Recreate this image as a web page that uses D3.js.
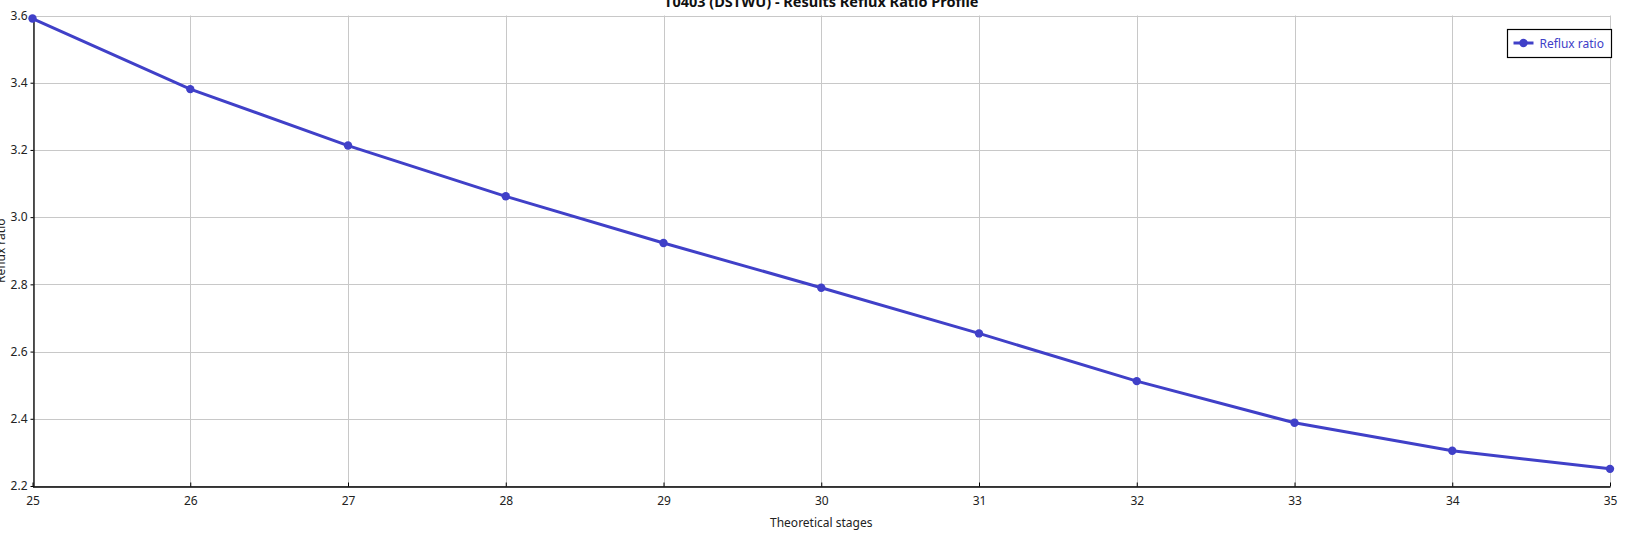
<!DOCTYPE html>
<html>
<head>
<meta charset="utf-8">
<script src="https://cdn.jsdelivr.net/npm/d3@7"></script>
<style>
  body { margin: 0; background: #fff; }
  svg { display: block; font-family: "Noto Sans", "DejaVu Sans", sans-serif; }
</style>
</head>
<body>
<svg id="chart" width="1628" height="537"></svg>
<script>
'use strict';

// data
var stages = [25, 26, 27, 28, 29, 30, 31, 32, 33, 34, 35];
var refluxRatio = [3.591, 3.381, 3.213, 3.062, 2.923, 2.790, 2.654, 2.512, 2.388, 2.305, 2.251];
var yTicks = [2.2, 2.4, 2.6, 2.8, 3.0, 3.2, 3.4, 3.6];

var titleText = "T0403 (DSTWU) - Results Reflux Ratio Profile";
var xLabel = "Theoretical stages";
var yLabel = "Reflux ratio";
var seriesName = "Reflux ratio";

var W = 1628, H = 537;
var margin = { top: 15.5, right: 18, bottom: 51, left: 32.5 };
var lineColor = "#4040c8";

var svg = d3.select("#chart");

var x = d3.scaleLinear().domain([25, 35]).range([margin.left, W - margin.right]);
var y = d3.scaleLinear().domain([2.2, 3.6]).range([H - margin.bottom, margin.top]);

// grid
var grid = svg.append("g").attr("class", "grid");
grid.selectAll("line.v")
    .data(stages)
    .enter().append("line")
        .attr("class", "v")
        .attr("x1", function(d) { return Math.round(x(d)) + 0.5; })
        .attr("x2", function(d) { return Math.round(x(d)) + 0.5; })
        .attr("y1", y(3.6))
        .attr("y2", y(2.2))
        .attr("stroke", "#c8c8c8");
grid.selectAll("line.h")
    .data(yTicks)
    .enter().append("line")
        .attr("class", "h")
        .attr("x1", x(25))
        .attr("x2", x(35))
        .attr("y1", function(d) { return Math.round(y(d)) + 0.5; })
        .attr("y2", function(d) { return Math.round(y(d)) + 0.5; })
        .attr("stroke", "#c8c8c8");

// axes
var xAxis = svg.append("g")
    .attr("transform", "translate(0," + (Math.round(y(2.2)) + 0.5) + ")")
    .call(d3.axisBottom(x).tickValues(stages).tickFormat(d3.format("d")).tickSizeInner(-4).tickSizeOuter(0).tickPadding(10));
var yAxis = svg.append("g")
    .attr("transform", "translate(" + (Math.round(x(25)) + 0.5) + ",0)")
    .call(d3.axisLeft(y).tickValues(yTicks).tickFormat(d3.format(".1f")).tickSizeInner(3).tickSizeOuter(0).tickPadding(3));

[xAxis, yAxis].forEach(function(a) {
    a.select(".domain").attr("stroke", "#000").attr("stroke-width", 1.3);
    a.selectAll(".tick line").attr("stroke", "#000");
    a.selectAll(".tick text")
        .attr("fill", "#222")
        .style("font-size", "12px")
        .style("font-family", "'Noto Sans', sans-serif");
});

// series
var line = d3.line()
    .x(function(d, i) { return x(stages[i]); })
    .y(function(d) { return y(d); });

svg.append("path")
    .datum(refluxRatio)
    .attr("fill", "none")
    .attr("stroke", lineColor)
    .attr("stroke-width", 3)
    .attr("d", line);

svg.selectAll("circle.pt")
    .data(refluxRatio)
    .enter().append("circle")
        .attr("class", "pt")
        .attr("cx", function(d, i) { return x(stages[i]); })
        .attr("cy", function(d) { return y(d); })
        .attr("r", 4.2)
        .attr("fill", lineColor);

// title + axis labels (the reference crops both at the edge too)
svg.append("text")
    .attr("x", (x(25) + x(35)) / 2)
    .attr("y", 7)
    .attr("text-anchor", "middle")
    .style("font-size", "14.5px")
    .style("font-weight", "bold")
    .attr("fill", "#111")
    .text(titleText);

svg.append("text")
    .attr("x", (x(25) + x(35)) / 2)
    .attr("y", 527)
    .attr("text-anchor", "middle")
    .style("font-size", "12px")
    .attr("fill", "#222")
    .text(xLabel);

svg.append("text")
    .attr("transform", "translate(5," + ((y(2.2) + y(3.6)) / 2) + ") rotate(-90)")
    .attr("text-anchor", "middle")
    .style("font-size", "12px")
    .attr("fill", "#222")
    .text(yLabel);

// legend
var legend = svg.append("g").attr("transform", "translate(1507.5,29.5)");
legend.append("rect")
    .attr("width", 104)
    .attr("height", 28)
    .attr("fill", "#fff")
    .attr("stroke", "#000")
    .attr("stroke-width", 1.2);
legend.append("line")
    .attr("x1", 6).attr("x2", 26)
    .attr("y1", 13.5).attr("y2", 13.5)
    .attr("stroke", lineColor)
    .attr("stroke-width", 3);
legend.append("circle")
    .attr("cx", 16).attr("cy", 13.5).attr("r", 4.2)
    .attr("fill", lineColor);
legend.append("text")
    .attr("x", 32)
    .attr("y", 18)
    .style("font-size", "12px")
    .attr("fill", lineColor)
    .text(seriesName);
</script>
</body>
</html>
